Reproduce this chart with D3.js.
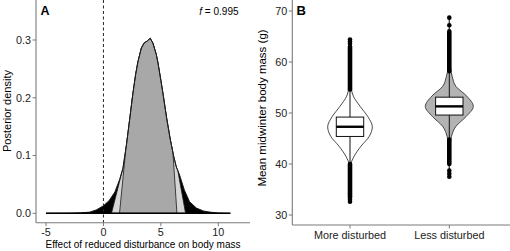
<!DOCTYPE html>
<html>
<head>
<meta charset="utf-8">
<script src="https://cdn.jsdelivr.net/npm/d3@7"></script>
<style>
  body { margin: 0; background: #fff; }
  svg { display: block; font-family: "Liberation Sans", Arial, sans-serif; }
</style>
</head>
<body>
<div id="chart"></div>
<script>
// ---- panel A: posterior density of the effect
const effectX = [-5, -3, -2, -1.2, -0.6, 0, 0.5, 1.0, 1.4, 1.7, 2.0, 2.3, 2.55, 2.8, 3.0, 3.3, 3.55, 3.8, 4.07, 4.3, 4.6, 4.75, 5.0, 5.2, 5.5, 5.8, 6.1, 6.35, 6.6, 7.05, 7.5, 8.1, 8.7, 9.3, 10, 11.05];
const densityY = [0, 0.0002, 0.0008, 0.002, 0.006, 0.013, 0.022, 0.037, 0.058, 0.078, 0.118, 0.165, 0.205, 0.24, 0.262, 0.286, 0.295, 0.298, 0.303, 0.295, 0.275, 0.26, 0.23, 0.205, 0.165, 0.13, 0.1, 0.08, 0.068, 0.040, 0.020, 0.009, 0.004, 0.002, 0.0005, 0];
// shaded intervals: base x and where the edge meets the curve
const outerBase = [0.7, 7.15], outerTop = [1.68, 6.47];
const innerBase = [1.4, 6.4], innerTop = [1.95, 6.05];
const xTicksA = [-5, 0, 5, 10];
const yTicksA = [0, 0.1, 0.2, 0.3];
const fLabel = "0.995";

// ---- panel B: posterior of mean midwinter body mass
const groups = ["More disturbed", "Less disturbed"];
const groupFill = ["#ffffff", "#b3b3b3"];
const violinMass = [
  [32.5, 34, 36, 38, 40, 41.5, 43.5, 45.4, 47.3, 49.3, 51.3, 53.3, 55, 57, 60, 64.5],
  [37.3, 40, 42, 44, 45.4, 47.4, 49.3, 51.3, 53.3, 55.2, 57.2, 60, 63, 68.7]
];
const violinWidth = [
  [0, 0.003, 0.006, 0.012, 0.04, 0.17, 0.46, 0.8, 0.93, 0.74, 0.42, 0.14, 0.05, 0.02, 0.008, 0],
  [0, 0.008, 0.02, 0.045, 0.09, 0.28, 0.7, 1.0, 0.73, 0.28, 0.12, 0.03, 0.01, 0]
];
const q1 = [45.4, 49.6], median = [47.3, 51.3], q3 = [49.2, 53.1];
const whiskLo = [40.0, 44.8], whiskHi = [54.6, 58.2];
// outliers: dense runs [from, to] and separate points
const outlierRuns = [[[33.4, 40.0], [54.6, 63.0]], [[40.0, 44.8], [58.2, 66.0]]];
const outlierPts = [[32.6, 33.0, 63.6, 64.0, 64.4], [37.5, 38.1, 38.7, 67.2, 68.7]];
const yTicksB = [30, 40, 50, 60, 70];

const W = 510, H = 251;
const svg = d3.select("#chart").append("svg").attr("width", W).attr("height", H);
const axisCol = "#7a7a7a", textCol = "#222";

// ================= panel A
const xA = d3.scaleLinear().domain([-5, 10]).range([46, 218.3]);
const yA = d3.scaleLinear().domain([0, 0.3]).range([213.3, 40]);
const panelA = {left: 36, right: 250, top: 0, bottom: 222.7};
const gA = svg.append("g");

const dens = effectX.map((x, i) => ({x: x, y: densityY[i]}));
const interp = x => {
  for (let i = 1; i < dens.length; i++) {
    if (x <= dens[i].x) {
      let a = dens[i - 1], b = dens[i];
      return a.y + (b.y - a.y) * (x - a.x) / (b.x - a.x);
    }
  }
  return 0;
};
const area = d3.area().x(d => xA(d.x)).y0(yA(0)).y1(d => yA(d.y));
const line = d3.line().x(d => xA(d.x)).y(d => yA(d.y));

gA.append("path").datum(dens).attr("d", area).attr("fill", "#000");

function shade(base, top, fill) {
  let pts = [{x: base[0], y: 0}, {x: top[0], y: interp(top[0])}];
  dens.filter(d => d.x > top[0] && d.x < top[1]).forEach(d => pts.push(d));
  pts.push({x: top[1], y: interp(top[1])});
  pts.push({x: base[1], y: 0});
  gA.append("path").datum(pts)
    .attr("d", line.curve(d3.curveLinear)(pts) + "Z")
    .attr("fill", fill).attr("stroke", "#1a1a1a").attr("stroke-width", 0.8)
    .attr("stroke-linejoin", "round");
}
shade(outerBase, outerTop, "#d6d6d6");
shade(innerBase, innerTop, "#a8a8a8");

gA.append("path").datum(dens).attr("d", line)
  .attr("fill", "none").attr("stroke", "#1a1a1a").attr("stroke-width", 1);
gA.append("line")
  .attr("x1", xA(-5)).attr("x2", xA(11.05)).attr("y1", yA(0)).attr("y2", yA(0))
  .attr("stroke", "#000").attr("stroke-width", 1.4);

// dashed zero line
gA.append("line")
  .attr("x1", xA(0)).attr("x2", xA(0)).attr("y1", panelA.top).attr("y2", panelA.bottom)
  .attr("stroke", "#222").attr("stroke-width", 1).attr("stroke-dasharray", "3,2.5");

// axes A
gA.append("line").attr("x1", panelA.left).attr("x2", panelA.left)
  .attr("y1", panelA.top).attr("y2", panelA.bottom).attr("stroke", axisCol).attr("stroke-width", 1.1);
gA.append("line").attr("x1", panelA.left).attr("x2", panelA.right)
  .attr("y1", panelA.bottom).attr("y2", panelA.bottom).attr("stroke", axisCol).attr("stroke-width", 1.1);
yTicksA.forEach(t => {
  gA.append("line").attr("x1", panelA.left - 3.5).attr("x2", panelA.left)
    .attr("y1", yA(t)).attr("y2", yA(t)).attr("stroke", axisCol);
  gA.append("text").attr("x", panelA.left - 5).attr("y", yA(t)).attr("dy", "0.35em")
    .attr("text-anchor", "end").attr("font-size", 10.8).attr("fill", textCol).text(d3.format(".1f")(t));
});
xTicksA.forEach(t => {
  gA.append("line").attr("x1", xA(t)).attr("x2", xA(t))
    .attr("y1", panelA.bottom).attr("y2", panelA.bottom + 3.5).attr("stroke", axisCol);
  gA.append("text").attr("x", xA(t)).attr("y", panelA.bottom + 13.5)
    .attr("text-anchor", "middle").attr("font-size", 10.8).attr("fill", textCol).text(t);
});
gA.append("text").attr("x", 143).attr("y", 247.5).attr("text-anchor", "middle")
  .attr("font-size", 10).attr("fill", "#000").text("Effect of reduced disturbance on body mass");
gA.append("text").attr("transform", "translate(11,111) rotate(-90)").attr("text-anchor", "middle")
  .attr("font-size", 11).attr("fill", "#000").text("Posterior density");
gA.append("text").attr("x", 40.5).attr("y", 14.5).attr("font-size", 12.5).attr("font-weight", "bold")
  .attr("fill", "#000").text("A");
const fT = gA.append("text").attr("x", 238.5).attr("y", 15).attr("text-anchor", "end")
  .attr("font-size", 10).attr("fill", "#000");
fT.append("tspan").attr("font-style", "italic").text("f");
fT.append("tspan").text(" = " + fLabel);

// ================= panel B
const panelB = {left: 292.3, right: 510, top: 0, bottom: 225};
const xB = d3.scalePoint().domain(groups).range([350, 449.3]);
const yB = d3.scaleLinear().domain([30, 70]).range([215, 11]);
const wB = d3.scaleLinear().domain([0, 1]).range([0, 24]);
const gB = svg.append("g");

groups.forEach((g, i) => {
  const cx = xB(g);
  const pts = violinMass[i].map((m, j) => ({m: m, w: violinWidth[i][j]}));
  const vArea = d3.area().curve(d3.curveMonotoneY)
    .y(d => yB(d.m)).x0(d => cx - wB(d.w)).x1(d => cx + wB(d.w));
  gB.append("path").datum(pts).attr("d", vArea)
    .attr("fill", groupFill[i]).attr("stroke", "#333").attr("stroke-width", 0.9);

  // whiskers
  gB.append("line").attr("x1", cx).attr("x2", cx).attr("y1", yB(whiskLo[i])).attr("y2", yB(q1[i]))
    .attr("stroke", "#111").attr("stroke-width", 1);
  gB.append("line").attr("x1", cx).attr("x2", cx).attr("y1", yB(q3[i])).attr("y2", yB(whiskHi[i]))
    .attr("stroke", "#111").attr("stroke-width", 1);
  // outliers
  outlierRuns[i].forEach(r => {
    gB.append("line").attr("x1", cx).attr("x2", cx).attr("y1", yB(r[0])).attr("y2", yB(r[1]))
      .attr("stroke", "#000").attr("stroke-width", 4.6).attr("stroke-linecap", "round");
  });
  outlierPts[i].forEach(p => {
    gB.append("circle").attr("cx", cx).attr("cy", yB(p)).attr("r", 2.3).attr("fill", "#000");
  });
  // box
  const bw = 13.7;
  gB.append("rect").attr("x", cx - bw).attr("width", 2 * bw)
    .attr("y", yB(q3[i])).attr("height", yB(q1[i]) - yB(q3[i]))
    .attr("fill", "#fff").attr("stroke", "#111").attr("stroke-width", 1);
  gB.append("line").attr("x1", cx - bw).attr("x2", cx + bw).attr("y1", yB(median[i])).attr("y2", yB(median[i]))
    .attr("stroke", "#000").attr("stroke-width", 2.4);
});

// axes B
gB.append("line").attr("x1", panelB.left).attr("x2", panelB.left)
  .attr("y1", panelB.top).attr("y2", panelB.bottom).attr("stroke", axisCol).attr("stroke-width", 1.1);
gB.append("line").attr("x1", panelB.left).attr("x2", panelB.right)
  .attr("y1", panelB.bottom).attr("y2", panelB.bottom).attr("stroke", axisCol).attr("stroke-width", 1.1);
yTicksB.forEach(t => {
  gB.append("line").attr("x1", panelB.left - 3.5).attr("x2", panelB.left)
    .attr("y1", yB(t)).attr("y2", yB(t)).attr("stroke", axisCol);
  gB.append("text").attr("x", panelB.left - 5).attr("y", yB(t)).attr("dy", "0.35em")
    .attr("text-anchor", "end").attr("font-size", 10.8).attr("fill", textCol).text(t);
});
groups.forEach(g => {
  gB.append("line").attr("x1", xB(g)).attr("x2", xB(g))
    .attr("y1", panelB.bottom).attr("y2", panelB.bottom + 3.5).attr("stroke", axisCol);
  gB.append("text").attr("x", xB(g)).attr("y", panelB.bottom + 14)
    .attr("text-anchor", "middle").attr("font-size", 10.8).attr("fill", textCol).text(g);
});
gB.append("text").attr("transform", "translate(266,108) rotate(-90)").attr("text-anchor", "middle")
  .attr("font-size", 11.5).attr("fill", "#000").text("Mean midwinter body mass (g)");
gB.append("text").attr("x", 296.5).attr("y", 14.5).attr("font-size", 13).attr("font-weight", "bold")
  .attr("fill", "#000").text("B");
</script>
</body>
</html>
